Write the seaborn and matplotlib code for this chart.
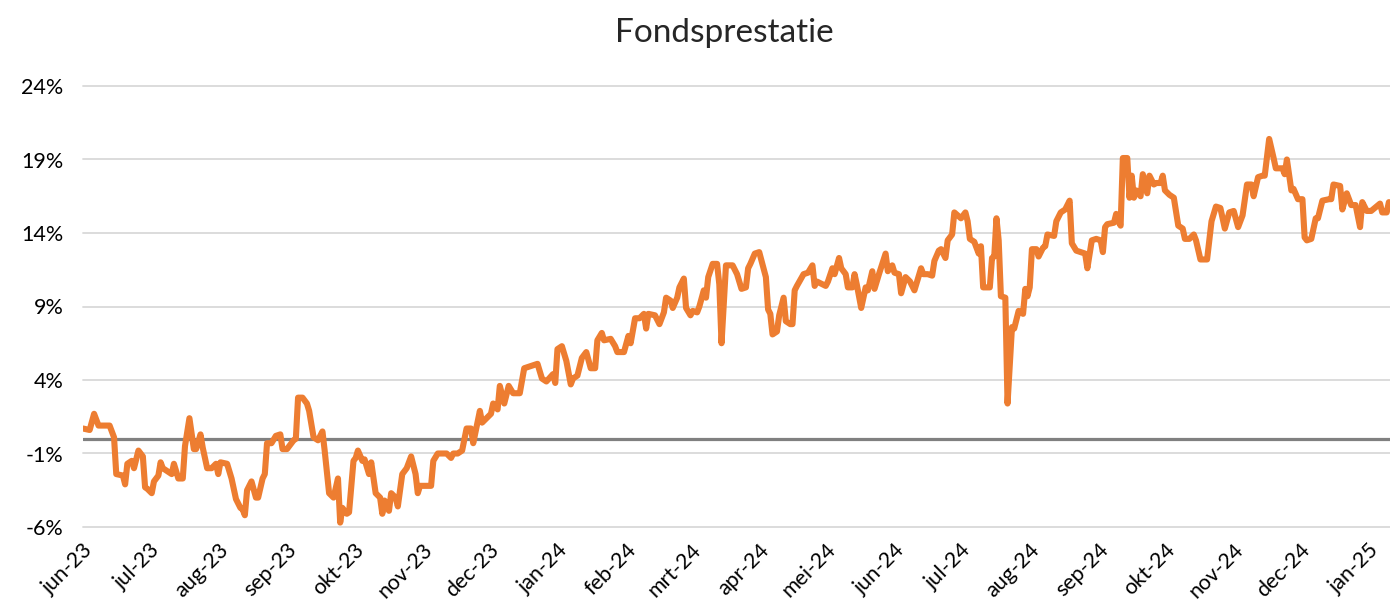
import pandas as pd
import matplotlib.pyplot as plt
import seaborn as sns

# Fund performance (days counted from 1 Jun 2023)
start_date = "2023-06-01"
days_since_start = [
    0, 3, 5, 7, 12, 14, 15, 18, 19, 20, 22, 23, 25, 27, 28, 29, 31, 32, 34, 35,
    36, 38, 40, 41, 43, 45, 46, 48, 50, 51, 53, 54, 56, 58, 60, 61, 62, 65, 67, 69,
    71, 72, 73, 74, 76, 78, 79, 81, 82, 83, 85, 87, 89, 90, 92, 95, 96, 97, 99, 101,
    102, 104, 106, 108, 109, 111, 113, 115, 116, 117, 119, 120, 122, 123, 124, 126, 127, 129, 130, 132,
    134, 135, 136, 138, 139, 141, 142, 144, 146, 148, 150, 151, 152, 155, 157, 158, 160, 164, 166, 167,
    169, 171, 173, 175, 176, 179, 180, 184, 185, 187, 188, 190, 192, 194, 197, 199, 203, 205, 207, 209,
    212, 213, 214, 216, 218, 220, 221, 223, 225, 227, 229, 231, 232, 234, 235, 238, 240, 241, 244, 246,
    247, 249, 251, 253, 254, 255, 258, 260, 262, 263, 265, 266, 268, 269, 271, 272, 274, 275, 277, 278,
    280, 281, 282, 284, 286, 287, 288, 290, 293, 295, 297, 299, 300, 301, 303, 305, 308, 309, 310, 311,
    313, 314, 316, 317, 319, 320, 321, 322, 325, 327, 329, 330, 331, 335, 336, 338, 339, 341, 342, 344,
    345, 347, 348, 349, 351, 353, 354, 356, 357, 359, 362, 363, 365, 366, 368, 369, 371, 373, 375, 378,
    379, 381, 383, 384, 386, 387, 389, 390, 392, 393, 396, 398, 399, 400, 402, 404, 405, 406, 409, 410,
    411, 412, 413, 414, 416, 417, 419, 420, 422, 424, 425, 426, 427, 428, 430, 431, 433, 434, 435, 438,
    439, 441, 443, 445, 446, 448, 450, 452, 453, 455, 457, 459, 460, 461, 462, 465, 466, 467, 468, 469,
    471, 472, 473, 474, 475, 477, 478, 480, 481, 483, 484, 486, 487, 488, 490, 492, 494, 496, 497, 499,
    501, 502, 504, 507, 509, 511, 513, 515, 517, 519, 521, 523, 525, 527, 528, 530, 532, 533, 535, 537,
    538, 541, 542, 543, 545, 546, 548, 550, 551, 552, 554, 556, 557, 559, 562, 563, 564, 567, 568, 570,
    572, 574, 576, 577, 579, 581, 585, 586, 588, 589,
]
performance_pct = [
    0.7, 0.6, 1.7, 0.9, 0.9, 0.1, -2.4, -2.5, -3.1, -1.7, -1.5, -2.0, -0.8, -1.2, -3.3, -3.4, -3.7, -2.9, -2.5, -1.6,
    -2.0, -2.2, -2.4, -1.7, -2.7, -2.7, -0.5, 1.4, -0.7, -0.7, 0.3, -0.6, -2.0, -2.0, -1.7, -2.4, -1.6, -1.7, -2.7, -4.1,
    -4.7, -4.8, -5.2, -3.5, -2.9, -4.0, -4.0, -2.7, -2.4, -0.3, -0.3, 0.2, 0.3, -0.7, -0.7, -0.1, 0.0, 2.8, 2.8, 2.4,
    1.9, 0.1, -0.1, 0.5, -0.8, -3.7, -4.0, -2.7, -5.7, -4.7, -5.1, -5.0, -1.5, -1.3, -0.8, -1.5, -1.4, -2.4, -1.6, -3.7,
    -4.0, -5.1, -4.2, -4.9, -3.7, -4.0, -4.6, -2.4, -2.0, -1.2, -2.4, -3.7, -3.2, -3.2, -3.2, -1.5, -1.0, -1.0, -1.3, -1.0,
    -1.0, -0.8, 0.7, 0.7, -0.3, 1.9, 1.1, 1.7, 2.4, 2.0, 3.6, 2.4, 3.6, 3.1, 3.1, 4.8, 5.0, 5.1, 4.1, 3.9,
    4.4, 3.8, 6.1, 6.3, 5.3, 3.7, 4.1, 4.3, 5.5, 5.9, 4.8, 4.8, 6.7, 7.2, 6.7, 6.8, 6.3, 5.9, 5.9, 7.0,
    6.5, 8.2, 8.2, 8.5, 7.5, 8.5, 8.4, 7.8, 8.6, 9.6, 9.4, 8.9, 9.6, 10.3, 10.9, 8.9, 8.4, 8.7, 8.6, 9.0,
    10.1, 9.6, 11.0, 11.9, 11.9, 10.5, 6.5, 11.8, 11.8, 11.2, 10.2, 10.3, 11.6, 11.9, 12.6, 12.7, 11.0, 8.8, 8.5, 7.1,
    7.3, 8.4, 9.6, 8.0, 7.8, 7.8, 10.1, 10.4, 11.2, 11.3, 11.8, 10.4, 10.7, 10.4, 10.7, 11.6, 11.2, 12.3, 11.6, 11.2,
    10.3, 10.3, 11.2, 10.5, 8.9, 10.3, 10.1, 11.4, 10.2, 11.2, 12.6, 11.4, 11.8, 11.3, 11.2, 9.9, 11.0, 10.7, 10.1, 11.6,
    11.2, 11.2, 11.1, 12.1, 12.8, 12.9, 12.3, 13.5, 13.9, 15.4, 15.0, 15.4, 14.8, 13.6, 13.4, 12.6, 13.1, 10.3, 10.3, 12.3,
    12.4, 15.0, 13.5, 9.7, 9.6, 2.4, 7.6, 7.5, 8.7, 8.5, 10.2, 9.7, 10.3, 12.9, 12.9, 12.4, 13.0, 13.1, 13.9, 13.8,
    14.8, 15.4, 15.6, 16.2, 13.3, 12.8, 12.7, 12.6, 11.6, 13.5, 13.6, 13.5, 12.7, 14.4, 14.6, 14.7, 15.3, 14.8, 14.5, 19.1,
    19.1, 16.4, 17.9, 16.4, 16.9, 16.5, 18.0, 16.7, 17.9, 17.3, 17.4, 17.4, 17.9, 16.9, 16.6, 16.4, 14.5, 14.3, 13.6, 13.6,
    13.9, 13.5, 12.2, 12.2, 14.8, 15.8, 15.7, 14.3, 15.4, 15.5, 14.4, 15.2, 17.3, 17.3, 16.5, 17.8, 17.9, 17.9, 20.4, 19.1,
    18.4, 18.4, 18.0, 19.0, 16.9, 17.0, 16.3, 16.3, 13.7, 13.5, 13.6, 15.0, 15.0, 16.2, 16.3, 16.3, 17.3, 17.2, 15.6, 16.7,
    15.9, 15.9, 14.4, 16.1, 15.5, 15.5, 16.0, 15.4, 15.4, 16.1,
]

month_labels = ["jun-23", "jul-23", "aug-23", "sep-23", "okt-23", "nov-23", "dec-23",
                "jan-24", "feb-24", "mrt-24", "apr-24", "mei-24", "jun-24", "jul-24",
                "aug-24", "sep-24", "okt-24", "nov-24", "dec-24", "jan-25"]
y_ticks = [-6, -1, 4, 9, 14, 19, 24]
y_labels = [f"{v}%" for v in y_ticks]

df = pd.DataFrame({
    "datum": pd.to_datetime(start_date) + pd.to_timedelta(days_since_start, unit="D"),
    "rendement": performance_pct,
})
month_ticks = pd.date_range(start_date, periods=len(month_labels), freq="MS")

sns.set_style("white")
plt.rcParams["font.family"] = ["Lato", "DejaVu Sans"]

fig = plt.figure(figsize=(13.9, 6.04), dpi=100)
ax = fig.add_axes([83 / 1390, 77 / 604, 1 - 83 / 1390, 441 / 604])

ax.axhline(0, color="#808080", linewidth=2.3, zorder=2)
sns.lineplot(data=df, x="datum", y="rendement", ax=ax, color="#ED7D31",
             linewidth=4.4, zorder=3)

ax.set_ylim(-6, 24)
ax.set_xlim(pd.Timestamp(start_date), pd.Timestamp(start_date) + pd.Timedelta(days=589.5))
ax.set_yticks(y_ticks)
ax.set_yticklabels(y_labels)
ax.set_xticks(month_ticks)
ax.set_xticklabels(month_labels, rotation=45, ha="right", rotation_mode="anchor")

ax.yaxis.grid(True, color="#D9D9D9", linewidth=1.3)
ax.xaxis.grid(False)
for gl in ax.get_ygridlines():
    gl.set_clip_on(False)
ax.set_axisbelow(True)
sns.despine(ax=ax, left=True, bottom=True)

ax.tick_params(axis="y", length=0, pad=14, labelsize=15.5, colors="#000000")
ax.tick_params(axis="x", length=0, pad=9, labelsize=15.5, colors="#000000")
ax.set_xlabel("")
ax.set_ylabel("")

fig.text(724 / 1390, 1 - 33 / 604, "Fondsprestatie", ha="center", va="center", fontsize=24)

fig.savefig("out.png", dpi=100)
